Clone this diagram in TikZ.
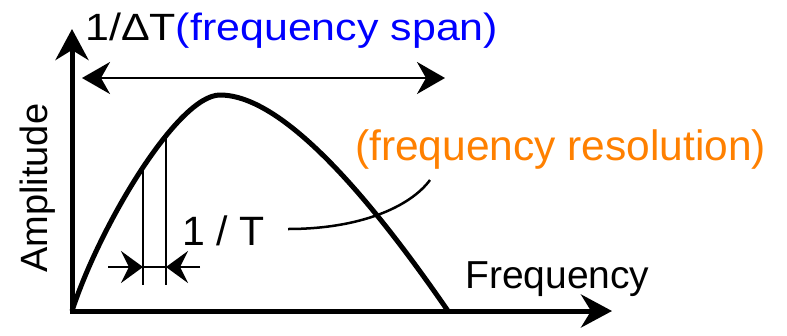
\documentclass[tikz,border=0pt]{standalone}
\usepackage{fontspec}
\setmainfont{Liberation Sans}
\newfontfamily\widefont[FakeStretch=1.13]{Liberation Sans}
\usetikzlibrary{arrows.meta}
\definecolor{spanblue}{RGB}{0,0,255}
\definecolor{resorange}{RGB}{255,128,0}
\tikzset{
  axtip/.tip={Stealth[length=31pt,width=33pt,inset=10pt]},
  spantip/.tip={Stealth[length=28pt,width=32pt,inset=9pt]},
  dimtip/.tip={Stealth[length=22pt,width=32pt,inset=8pt]},
  axisline/.style={line width=5pt, line join=miter},
  curveline/.style={line width=5pt},
  thinline/.style={line width=2.5pt},
  lbl/.style={anchor=base west, inner sep=0pt}
}
\begin{document}
\begin{tikzpicture}[x=1pt,y=-1pt]
\path[use as bounding box] (0,0) rectangle (787,335);
% axes
\coordinate (O) at (72,311);
\coordinate (ytop) at (72,29);
\coordinate (xend) at (612,311);
\draw[axisline, axtip-axtip] (ytop) -- (O) -- (xend);
% spectrum curve
\coordinate (peak) at (220,95);
\coordinate (cend) at (448,311);
\draw[curveline] (O) .. controls (100,225) and (178,95) .. (peak)
                     .. controls (285,95) and (375,205) .. (cend);
% span arrow
\coordinate (sL) at (82,78);
\coordinate (sR) at (445,78);
\draw[thinline, spantip-spantip] (sL) -- (sR);
% resolution lines
\coordinate (v1top) at (143,167);
\coordinate (v1bot) at (143,285);
\coordinate (v2top) at (166,137);
\coordinate (v2bot) at (166,285);
\draw[thinline] (v1top) -- (v1bot);
\draw[thinline] (v2top) -- (v2bot);
\coordinate (d1) at (143,267);
\coordinate (d2) at (166,267);
\coordinate (dL) at (108,267);
\coordinate (dR) at (200,267);
\draw[thinline] (d1) -- (d2);
\draw[thinline, -dimtip] (dL) -- (d1);
\draw[thinline, -dimtip] (dR) -- (d2);
% leader
\coordinate (lA) at (288,229);
\coordinate (lB) at (430,180);
\draw[thinline] (lA) .. controls (360,229) and (410,207) .. (lB);
% labels
\node[lbl, font=\fontsize{38}{44}\widefont] (spanlbl) at (85,40) {1/ΔT\textcolor{spanblue}{(frequency span)}};
\node[lbl, font=\fontsize{42.5}{48}\selectfont, text=resorange] (reslbl) at (355,160) {(frequency resolution)};
\node[lbl, font=\fontsize{41}{46}\selectfont] (tlbl) at (182,245) {1 / T};
\node[lbl, font=\fontsize{39}{44}\selectfont] (flbl) at (465,288) {Frequency};
\node[lbl, rotate=90, font=\fontsize{38}{44}\selectfont] (albl) at (47,273) {Amplitude};
\end{tikzpicture}
\end{document}
